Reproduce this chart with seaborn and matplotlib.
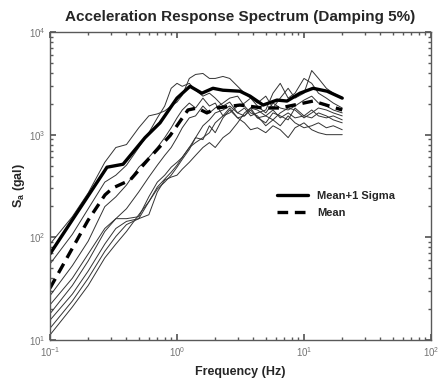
import numpy as np
import pandas as pd
import matplotlib
matplotlib.use("Agg")
import matplotlib.pyplot as plt
import seaborn as sns

# Frequency grid of the individual records (Hz)
freq = [0.1, 0.15, 0.2, 0.27, 0.33, 0.4, 0.5, 0.6, 0.7, 0.8, 0.9, 1.0, 1.1, 1.25,
        1.4, 1.6, 1.8, 2.0, 2.3, 2.6, 3.0, 3.4, 3.8, 4.3, 5.0, 5.7, 6.5, 7.5, 8.5,
        10, 11.5, 13, 15, 17, 20]

# Spectral acceleration of each record (gal)
rec1 = [86, 159, 271, 538, 750, 801, 1167, 1524, 1593, 1702, 1901, 2077, 2425, 3530,
        3860, 3945, 3530, 3530, 3690, 3530, 2958, 2535, 2270, 2032, 2373, 1819, 2270,
        2830, 2270, 2535, 4215, 3530, 2830, 2535, 2270]
rec2 = [55, 107, 190, 345, 403, 504, 750, 1045, 1457, 1901, 2830, 3162, 2958, 3162,
        2710, 2373, 2535, 2270, 1901, 2077, 1629, 1819, 1524, 1629, 1740, 2535, 3162,
        2270, 2535, 3530, 3162, 2535, 2270, 2032, 1819]
rec3 = [27, 53, 92, 199, 248, 323, 482, 601, 750, 935, 1167, 1457, 1740, 2032, 1819,
        2270, 1901, 2032, 1524, 1819, 1457, 1524, 1740, 1457, 1304, 1629, 1524, 1394,
        1819, 1524, 1457, 1629, 1524, 1394, 1304]
rec4 = [22, 40, 69, 122, 152, 190, 277, 386, 504, 628, 750, 935, 1167, 1457, 1524,
        1901, 1629, 1819, 2032, 2270, 2373, 1901, 1629, 1524, 1221, 1394, 1221, 1524,
        1304, 1167, 1221, 1304, 1167, 1221, 1117]
rec5 = [18, 34, 59, 114, 152, 152, 159, 248, 345, 403, 482, 538, 601, 750, 935, 895,
        1221, 1045, 1457, 1740, 1457, 1304, 1117, 1167, 1045, 1221, 1117, 935, 1167,
        1304, 1117, 1045, 1000, 1000, 1000]
rec6 = [15.6, 28, 47, 86, 122, 143, 152, 166, 277, 361, 386, 403, 461, 538, 628, 750,
        837, 750, 935, 1045, 1304, 1629, 1819, 1457, 1524, 1740, 1457, 1629, 1457, 1524,
        1740, 1524, 1457, 1524, 1394]
rec7 = [13, 24, 40, 73, 102, 133, 152, 222, 309, 369, 431, 504, 601, 750, 837, 935,
        1045, 1304, 1524, 1629, 1901, 2032, 2270, 1901, 1629, 2032, 1819, 1740, 1901,
        2172, 2373, 2032, 1901, 1740, 1629]
rec8 = [11.2, 21, 34, 63, 86, 114, 166, 222, 296, 345, 403, 482, 575, 717, 935, 1221,
        1394, 1629, 1740, 1901, 1629, 1524, 1819, 1740, 1524, 1394, 1629, 1819, 1740,
        1457, 1629, 1819, 1740, 1629, 1524]
records = [rec1, rec2, rec3, rec4, rec5, rec6, rec7, rec8]

# Mean + 1 sigma spectrum
sigma_freq = [0.1, 0.281, 0.376, 0.56, 0.735, 1.0, 1.265, 1.57, 1.92, 2.3, 3.13, 3.76,
              4.76, 6.13, 7.35, 9.3, 11.8, 15.2, 20]
sigma_sa = [69, 482, 515, 935, 1304, 2270, 2958, 2535, 2830, 2710, 2650, 2373, 1943,
            2172, 2125, 2535, 2830, 2650, 2270]

# Mean spectrum
mean_freq = [0.1, 0.199, 0.271, 0.313, 0.427, 0.613, 0.881, 1.22, 1.44, 1.72, 2.06,
             3.13, 4.76, 6.47, 11.8, 20]
mean_sa = [32, 146, 259, 303, 361, 601, 978, 1740, 1819, 1629, 1819, 1943, 1819, 1819,
           2125, 1740]

sns.set_theme(style="ticks")
plt.rcParams["font.family"] = ["Liberation Sans", "DejaVu Sans"]
plt.rcParams["mathtext.fontset"] = "custom"
plt.rcParams["mathtext.rm"] = "Liberation Sans"
plt.rcParams["mathtext.bf"] = "Liberation Sans:bold"

fig = plt.figure(figsize=(4.38, 3.85), dpi=100)
ax = fig.add_axes([50 / 438, 1 - 340 / 385, 381 / 438, 308 / 385])

rec_df = pd.DataFrame({
    "freq": np.tile(freq, len(records)),
    "sa": np.concatenate(records),
    "record": np.repeat(np.arange(len(records)), len(freq)),
})
sns.lineplot(data=rec_df, x="freq", y="sa", units="record", estimator=None,
             color="0.2", lw=0.7, ax=ax, legend=False)

sig_df = pd.DataFrame({"freq": sigma_freq, "sa": sigma_sa})
mean_df = pd.DataFrame({"freq": mean_freq, "sa": mean_sa})
sns.lineplot(data=sig_df, x="freq", y="sa", color="black", lw=2.4, ax=ax,
             label="Mean+1 Sigma")
sns.lineplot(data=mean_df, x="freq", y="sa", color="black", lw=2.4, ax=ax,
             label="Mean", linestyle=(0, (3.2, 2)))

ax.set_xscale("log")
ax.set_yscale("log")
ax.set_xlim(0.1, 100)
ax.set_ylim(10, 10000)

ax.tick_params(which="both", direction="in", top=True, right=True,
               colors="0.35", labelsize=7, labelcolor="0.45")
ax.tick_params(which="major", length=4)
ax.tick_params(which="minor", length=2)
for sp in ax.spines.values():
    sp.set_color("0.35")
    sp.set_linewidth(1.0)

ax.set_title("Acceleration Response Spectrum (Damping 5%)", fontsize=11,
             fontweight="bold", pad=8)
ax.set_xlabel("Frequency (Hz)", fontsize=9, fontweight="bold", labelpad=5)
ax.set_ylabel(r"$\mathbf{S_a}$ (gal)", fontsize=9, fontweight="bold", labelpad=1)

ax.legend(loc="center left", bbox_to_anchor=(0.57, 0.44), frameon=False,
          prop={"weight": "bold", "size": 8}, handlelength=2.8,
          labelspacing=0.6)

fig.savefig("out.png", dpi=100)
